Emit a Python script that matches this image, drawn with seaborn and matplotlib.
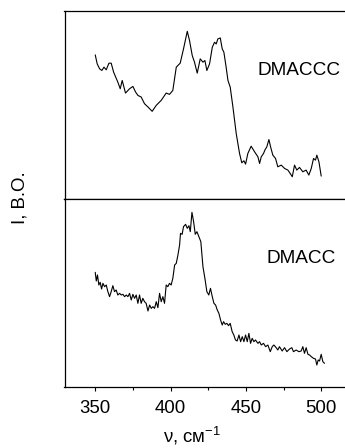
import matplotlib
matplotlib.use("Agg")
import matplotlib.pyplot as plt
import seaborn as sns
import pandas as pd

# Wavenumber (cm^-1) and intensity (arb. units)
top_x = [350.0, 351.3, 352.9, 354.4, 355.8, 357.3, 359.1, 360.6, 362.2, 365.0,
         366.6, 367.9, 370.1, 372.8, 375.0, 376.8, 378.3, 380.5, 382.7, 385.0,
         387.8, 390.5, 393.8, 397.1, 399.3, 401.5, 403.8, 406.4, 408.6, 411.1,
         412.6, 414.4, 415.9, 417.7, 419.7, 421.5, 422.8, 424.1, 425.9, 427.7,
         429.2, 430.3, 431.4, 433.0, 434.3, 435.4, 436.9, 438.1, 439.6, 441.4,
         443.6, 445.8, 447.3, 448.7, 449.8, 451.3, 453.5, 455.8, 458.0, 459.1,
         460.2, 461.7, 462.8, 463.9, 465.3, 466.4, 467.9, 469.7, 471.2, 473.5,
         475.7, 477.9, 479.4, 480.8, 482.3, 483.8, 485.6, 487.8, 490.0, 491.8,
         493.4, 494.9, 496.2, 497.1, 498.5, 500.0]
top_y = [434, 407, 392, 387, 397, 389, 409, 409, 382, 352,
         332, 357, 319, 332, 339, 322, 312, 307, 287, 277,
         264, 282, 297, 319, 315, 327, 397, 409, 452, 505,
         477, 432, 412, 379, 422, 412, 417, 387, 407, 457,
         472, 467, 482, 485, 452, 442, 397, 357, 337, 277,
         197, 137, 109, 115, 105, 137, 159, 142, 127, 107,
         127, 137, 149, 157, 179, 157, 132, 122, 97, 102,
         92, 87, 77, 67, 102, 87, 95, 82, 87, 72,
         92, 122, 117, 132, 112, 69]

bot_x = [350.0, 350.7, 351.5, 352.4, 353.3, 354.2, 355.1, 356.2, 357.3, 358.4,
         359.5, 360.6, 361.7, 362.8, 363.9, 365.0, 366.2, 367.3, 368.4, 369.5,
         370.6, 371.7, 372.8, 373.9, 375.0, 376.1, 377.2, 378.3, 379.4, 380.5,
         381.6, 382.7, 383.8, 385.0, 386.1, 387.2, 388.3, 389.4, 390.5, 391.6,
         392.7, 393.8, 394.9, 396.0, 397.1, 398.2, 399.3, 400.4, 401.5, 402.7,
         403.8, 404.9, 406.0, 406.6, 407.7, 408.6, 410.0, 411.1, 412.2, 413.1,
         414.2, 415.3, 416.4, 417.5, 418.8, 420.1, 421.5, 422.8, 424.1, 425.4,
         426.5, 427.7, 428.8, 429.9, 431.0, 432.1, 433.2, 434.3, 435.2, 436.3,
         437.4, 438.5, 439.6, 440.9, 442.0, 443.1, 444.2, 445.4, 446.5, 447.6,
         448.7, 449.8, 450.9, 452.0, 453.1, 454.2, 455.3, 456.4, 458.0, 459.1,
         460.2, 461.7, 463.1, 464.6, 466.2, 467.5, 468.6, 470.1, 471.2, 472.3,
         474.1, 475.7, 477.2, 479.0, 480.5, 481.6, 483.4, 485.2, 486.7, 487.8,
         488.9, 490.0, 491.2, 492.3, 493.4, 494.9, 496.2, 497.1, 498.0, 498.9,
         500.0, 501.1, 502.2]
bot_y = [344, 318, 336, 306, 314, 294, 311, 301, 306, 286,
         271, 286, 304, 286, 291, 276, 281, 276, 278, 271,
         276, 271, 281, 261, 278, 266, 276, 251, 276, 251,
         266, 256, 251, 228, 246, 236, 241, 236, 256, 238,
         281, 256, 271, 251, 306, 301, 311, 306, 326, 366,
         371, 396, 426, 461, 458, 481, 488, 476, 484, 466,
         524, 496, 458, 466, 451, 436, 361, 326, 286, 276,
         296, 271, 251, 246, 231, 221, 201, 186, 196, 188,
         191, 184, 191, 166, 156, 141, 138, 156, 136, 151,
         136, 156, 136, 161, 131, 146, 136, 141, 131, 136,
         126, 131, 121, 126, 106, 121, 126, 118, 111, 121,
         108, 118, 106, 114, 118, 106, 111, 106, 108, 121,
         101, 118, 98, 96, 91, 86, 84, 66, 81, 78,
         98, 76, 71]

labels = ["DMACCC", "DMACC"]
xticks_major = [350, 400, 450, 500]
xticks_minor = [375, 425, 475]

sns.set_style("ticks")
plt.rcParams["font.family"] = ["Liberation Sans", "DejaVu Sans"]
plt.rcParams["mathtext.fontset"] = "custom"
plt.rcParams["mathtext.rm"] = "Liberation Sans"
plt.rcParams["mathtext.it"] = "Liberation Sans:italic"
plt.rcParams["mathtext.bf"] = "Liberation Sans:bold"
plt.rcParams["text.color"] = "black"
plt.rcParams["xtick.color"] = "black"
plt.rcParams["xtick.labelcolor"] = "black"

W, H = 345, 448
fig = plt.figure(figsize=(W / 100, H / 100), dpi=100)
left = 64.5 / W
width = 1.0 - left
ax_top = fig.add_axes([left, 1 - 199 / H, width, 188.3 / H])
ax_bot = fig.add_axes([left, 1 - 387 / H, width, 188 / H])

df_top = pd.DataFrame({"x": top_x, "y": top_y})
df_bot = pd.DataFrame({"x": bot_x, "y": bot_y})
sns.lineplot(data=df_top, x="x", y="y", ax=ax_top, color="black", lw=0.8,
             sort=False, estimator=None)
sns.lineplot(data=df_bot, x="x", y="y", ax=ax_bot, color="black", lw=0.8,
             sort=False, estimator=None)

for ax, ylim in ((ax_top, (0, 567)), (ax_bot, (0, 564))):
    ax.set_xlim(329.6, 515.8)
    ax.set_ylim(*ylim)
    ax.set_yticks([])
    ax.set_xlabel("")
    ax.set_ylabel("")
    ax.spines["right"].set_visible(False)
    for s in ("left", "top", "bottom"):
        ax.spines[s].set_color("black")
        ax.spines[s].set_linewidth(0.9)

ax_top.set_xticks([])
ax_top.tick_params(axis="x", which="both", length=0)

ax_bot.set_xticks(xticks_major)
ax_bot.set_xticks(xticks_minor, minor=True)
ax_bot.tick_params(axis="x", which="major", direction="out", length=3,
                   width=0.8, color="black", labelcolor="black",
                   labelsize=13.4, pad=6)
ax_bot.tick_params(axis="x", which="minor", direction="out", length=2.5,
                   width=0.8, color="black")

ax_top.text(0.838, 0.68, labels[0], transform=ax_top.transAxes,
            ha="center", va="center", fontsize=13.7, color="black")
ax_bot.text(0.843, 0.685, labels[1], transform=ax_bot.transAxes,
            ha="center", va="center", fontsize=13.7, color="black")

fig.text(192 / W, 5.5 / H, "ν, см$^{-1}$", ha="center", va="baseline",
         fontsize=13.4, color="black")
fig.text(20 / W, 1 - 198 / H, "I, В.О.", ha="center", va="center",
         rotation=90, fontsize=13.4, color="black")

fig.savefig("out.png", dpi=100)
